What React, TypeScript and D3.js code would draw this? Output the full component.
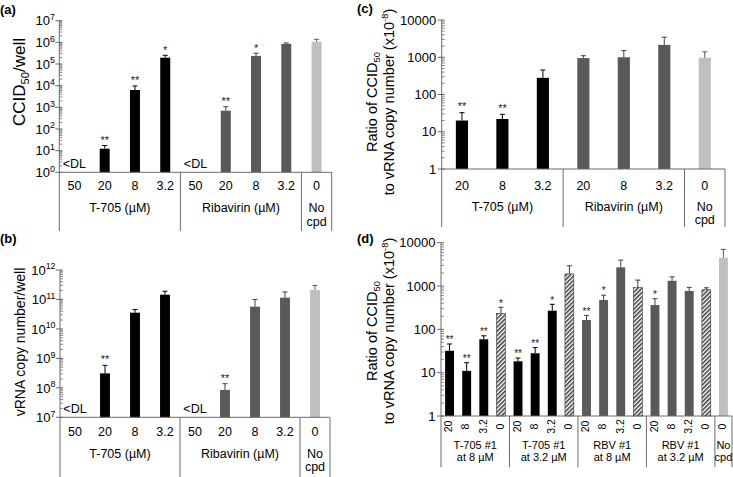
import React from "react";
import * as d3 from "d3";

const FONT = "'Liberation Sans', Arial, Helvetica, sans-serif";

// ---------- Panel (a): CCID50 / well ----------
const aCategories = ["50", "20", "8", "3.2", "50", "20", "8", "3.2", "0"];
const aGroups = [["T-705 (µM)"], ["Ribavirin (µM)"], ["No", "cpd"]];
const aGroupSizes = [4, 4, 1];
const aValues = [null, 12.3, 6300, 196000, null, 700, 236000, 850000, 1070000];
const aErrors = [null, 5, 3400, 57000, null, 370, 78000, 90000, 310000];
const aStars = ["", "**", "**", "*", "", "**", "*", "", ""];
const aKinds = ["k", "k", "k", "k", "g", "g", "g", "g", "l"];

// ---------- Panel (b): vRNA copy number / well ----------
const bCategories = ["50", "20", "8", "3.2", "50", "20", "8", "3.2", "0"];
const bGroups = [["T-705 (µM)"], ["Ribavirin (µM)"], ["No", "cpd"]];
const bGroupSizes = [4, 4, 1];
const bValues = [null, 3.1e8, 3.56e10, 1.45e11, null, 8.5e7, 5.7e10, 1.15e11, 2.1e11];
const bErrors = [null, 2.7e8, 1.0e10, 4.5e10, null, 5.3e7, 4.3e10, 6.5e10, 9e10];
const bStars = ["", "**", "", "", "", "**", "", "", ""];
const bKinds = ["k", "k", "k", "k", "g", "g", "g", "g", "l"];

// ---------- Panel (c): ratio ----------
const cCategories = ["20", "8", "3.2", "20", "8", "3.2", "0"];
const cGroups = [["T-705 (µM)"], ["Ribavirin (µM)"], ["No", "cpd"]];
const cGroupSizes = [3, 3, 1];
const cValues = [20, 22, 280, 950, 1000, 2150, 970];
const cErrors = [12.5, 7.4, 175, 150, 510, 1300, 430];
const cStars = ["**", "**", "", "", "", "", ""];
const cKinds = ["k", "k", "k", "g", "g", "g", "l"];

// ---------- Panel (d): ratio, combinations ----------
const dCategories = ["20", "8", "3.2", "0", "20", "8", "3.2", "0", "20", "8", "3.2", "0", "20", "8", "3.2", "0", "0"];
const dGroups = [["T-705 #1", "at 8 µM"], ["T-705 #1", "at 3.2 µM"], ["RBV #1", "at 8 µM"], ["RBV #1", "at 3.2 µM"], ["No", "cpd"]];
const dGroupSizes = [4, 4, 4, 4, 1];
const dValues = [32, 11, 59, 234, 18.3, 28, 270, 1900, 164, 475, 2700, 915, 364, 1320, 770, 820, 4500];
const dErrors = [14, 6, 12, 88, 3.5, 10, 108, 1030, 46, 139, 1270, 455, 146, 310, 160, 90, 2500];
const dStars = ["**", "**", "**", "*", "**", "**", "*", "", "**", "*", "", "", "*", "", "", "", ""];
const dKinds = ["k", "k", "k", "h", "k", "k", "k", "h", "g", "g", "g", "h", "g", "g", "g", "h", "l"];

const FILL: Record<string, string> = { k: "#000000", g: "#595959", l: "#bfbfbf", h: "url(#hatch)" };
const ERRC: Record<string, string> = { k: "#000000", g: "#404040", l: "#595959", h: "#3a3a3a" };
const AXIS = "#6b6b6b";

type Cfg = {
  x0: number; x1: number; yTop: number; yBot: number; domain: [number, number]; pad: number;
  tickFmt: "pow" | "plain"; tickFont: number; tickGap: number;
  catFont: number; catBaseline: number; rotateCats?: boolean; catCenterY?: number;
  groupFont: number; groupBaseline: number; groupLineH: number; lineBottom: number;
  starFont: number; starGap: number;
};

function Panel(props: {
  cfg: Cfg; categories: string[]; groups: string[][]; groupSizes: number[];
  values: (number | null)[]; errors: (number | null)[]; stars: string[]; kinds: string[];
}) {
  const { cfg, categories, groups, groupSizes, values, errors, stars, kinds } = props;
  const n = categories.length;
  const x = d3.scaleBand<number>().domain(d3.range(n)).range([cfg.x0, cfg.x1])
    .paddingInner(cfg.pad).paddingOuter(cfg.pad / 2);
  const step = x.step();
  const bw = x.bandwidth();
  const cx = (i: number) => (x(i) as number) + bw / 2;
  const y = d3.scaleLog().domain(cfg.domain).range([cfg.yBot, cfg.yTop]);
  const lo = Math.round(Math.log10(cfg.domain[0]));
  const hi = Math.round(Math.log10(cfg.domain[1]));
  const majors = d3.range(lo, hi + 1);
  const minors: number[] = [];
  for (let k = lo; k < hi; k++) for (let m = 2; m <= 9; m++) minors.push(m * Math.pow(10, k));
  const bounds: number[] = [cfg.x0];
  let acc = 0;
  groupSizes.forEach((s) => { acc += s; bounds.push(cfg.x0 + acc * step); });

  return (
    <g>
      {values.map((v, i) => v == null ? (
        <text key={"dl" + i} x={cx(i)} y={cfg.yBot - 4} fontSize={12.5} textAnchor="middle" fill="#000">{"<DL"}</text>
      ) : (
        <rect key={"b" + i} x={x(i)} y={y(v)} width={bw} height={cfg.yBot - y(v)} fill={FILL[kinds[i]]}
          stroke={kinds[i] === "h" ? "#3a3a3a" : "none"} strokeWidth={0.6} />
      ))}
      {values.map((v, i) => {
        const e = errors[i];
        if (v == null || e == null) return null;
        const top = y(v + e);
        return (
          <g key={"e" + i} stroke={ERRC[kinds[i]]} strokeWidth={1}>
            <line x1={cx(i)} x2={cx(i)} y1={y(v)} y2={top} />
            <line x1={cx(i) - 2.5} x2={cx(i) + 2.5} y1={top} y2={top} />
          </g>
        );
      })}
      {values.map((v, i) => {
        const e = errors[i];
        if (v == null || e == null || !stars[i]) return null;
        const top = y(v + e);
        return (
          <text key={"s" + i} x={cx(i)} y={top - cfg.starGap + 0.575 * cfg.starFont} fontSize={cfg.starFont}
            textAnchor="middle" fill="#1a1a1a">{stars[i]}</text>
        );
      })}
      <line x1={cfg.x0} x2={cfg.x0} y1={cfg.yTop} y2={cfg.yBot} stroke={AXIS} strokeWidth={1} />
      {minors.map((m, i) => (
        <line key={"mt" + i} x1={cfg.x0} x2={cfg.x0 + 3} y1={y(m)} y2={y(m)} stroke={AXIS} strokeWidth={0.8} />
      ))}
      {majors.map((k) => (
        <g key={"M" + k}>
          <line x1={cfg.x0 - 4} x2={cfg.x0 + 3} y1={y(Math.pow(10, k))} y2={y(Math.pow(10, k))} stroke={AXIS} strokeWidth={1} />
          {cfg.tickFmt === "pow" ? (
            <text x={cfg.x0 - cfg.tickGap} y={y(Math.pow(10, k)) + 0.36 * cfg.tickFont} fontSize={cfg.tickFont}
              textAnchor="end" fill="#000">
              <tspan>10</tspan>
              <tspan fontSize={cfg.tickFont * 0.68} dy={-cfg.tickFont * 0.42}>{String(k)}</tspan>
            </text>
          ) : (
            <text x={cfg.x0 - cfg.tickGap} y={y(Math.pow(10, k)) + 0.36 * cfg.tickFont} fontSize={cfg.tickFont}
              textAnchor="end" fill="#000">{d3.format("d")(Math.pow(10, k))}</text>
          )}
        </g>
      ))}
      <line x1={cfg.x0} x2={cfg.x1} y1={cfg.yBot} y2={cfg.yBot} stroke={AXIS} strokeWidth={1} />
      {bounds.map((b, i) => (
        <line key={"sep" + i} x1={b} x2={b} y1={cfg.yBot} y2={cfg.lineBottom} stroke={AXIS} strokeWidth={1} />
      ))}
      {categories.map((c, i) => cfg.rotateCats ? (
        <text key={"c" + i} transform={`translate(${cx(i) - 1},${cfg.catCenterY}) rotate(-90)`} y={0.36 * cfg.catFont}
          fontSize={cfg.catFont} textAnchor="middle" fill="#000">{c}</text>
      ) : (
        <text key={"c" + i} x={cx(i)} y={cfg.catBaseline} fontSize={cfg.catFont} textAnchor="middle" fill="#000">{c}</text>
      ))}
      {groups.map((lines, gi) => {
        const mid = (bounds[gi] + bounds[gi + 1]) / 2;
        return (
          <text key={"g" + gi} fontSize={cfg.groupFont} textAnchor="middle" fill="#000">
            {lines.map((ln, li) => (
              <tspan key={li} x={mid} y={cfg.groupBaseline + li * cfg.groupLineH}>{ln}</tspan>
            ))}
          </text>
        );
      })}
    </g>
  );
}

const cfgA: Cfg = {
  x0: 59.3, x1: 331.7, yTop: 20.7, yBot: 172.3, domain: [1, 1e7], pad: 0.67,
  tickFmt: "pow", tickFont: 13, tickGap: 4.5,
  catFont: 12.5, catBaseline: 190,
  groupFont: 12.5, groupBaseline: 211.7, groupLineH: 14, lineBottom: 231,
  starFont: 11, starGap: 8,
};
const cfgB: Cfg = {
  x0: 60, x1: 330, yTop: 270, yBot: 417.3, domain: [1e7, 1e12], pad: 0.67,
  tickFmt: "pow", tickFont: 13, tickGap: 4.5,
  catFont: 12.5, catBaseline: 436,
  groupFont: 12.5, groupBaseline: 458, groupLineH: 13, lineBottom: 477,
  starFont: 11, starGap: 8.3,
};
const cfgC: Cfg = {
  x0: 441.7, x1: 725, yTop: 20, yBot: 169, domain: [1, 1e4], pad: 0.7,
  tickFmt: "plain", tickFont: 13, tickGap: 5.5,
  catFont: 12.5, catBaseline: 189.5,
  groupFont: 12.5, groupBaseline: 210.5, groupLineH: 13.5, lineBottom: 227,
  starFont: 11, starGap: 9,
};
const cfgD: Cfg = {
  x0: 441, x1: 732, yTop: 242.7, yBot: 416, domain: [1, 1e4], pad: 0.48,
  tickFmt: "plain", tickFont: 13, tickGap: 5.5,
  catFont: 10.5, catBaseline: 0, rotateCats: true, catCenterY: 426.5,
  groupFont: 11, groupBaseline: 448.5, groupLineH: 12.5, lineBottom: 467.3,
  starFont: 10, starGap: 6.5,
};

function RotTitle(props: { cx: number; cy: number; fs: number; children: React.ReactNode }) {
  const { cx, cy, fs, children } = props;
  return (
    <text transform={`translate(${cx + 0.36 * fs},${cy}) rotate(-90)`} fontSize={fs} textAnchor="middle" fill="#000">
      {children}
    </text>
  );
}

function RatioTitle(props: { cy: number }) {
  const fs = 14.5;
  return (
    <g>
      <RotTitle cx={372} cy={props.cy} fs={fs}>
        <tspan>Ratio of CCID</tspan>
        <tspan fontSize={fs * 0.65} dy={fs * 0.22}>50</tspan>
      </RotTitle>
      <RotTitle cx={388.5} cy={props.cy} fs={fs}>
        <tspan>to vRNA copy number (x10</tspan>
        <tspan fontSize={fs * 0.65} dy={-fs * 0.4}>-8</tspan>
        <tspan dy={fs * 0.4}>)</tspan>
      </RotTitle>
    </g>
  );
}

export default function App() {
  return (
    <svg width={733} height={477} style={{ position: "absolute", left: 0, top: 0 }} fontFamily={FONT}>
      <defs>
        <pattern id="hatch" patternUnits="userSpaceOnUse" width={3} height={3} patternTransform="rotate(45)">
          <rect width={3} height={3} fill="#ffffff" />
          <line x1={0.75} y1={0} x2={0.75} y2={3} stroke="#3a3a3a" strokeWidth={1.5} />
        </pattern>
      </defs>
      <rect width={733} height={477} fill="#ffffff" />

      <text x={0} y={13.5} fontSize={13} fontWeight="bold">(a)</text>
      <text x={0} y={243} fontSize={13} fontWeight="bold">(b)</text>
      <text x={357} y={12.5} fontSize={13} fontWeight="bold">(c)</text>
      <text x={357} y={243} fontSize={13} fontWeight="bold">(d)</text>

      <RotTitle cx={18.8} cy={82} fs={17}>
        <tspan>CCID</tspan>
        <tspan fontSize={17 * 0.65} dy={17 * 0.22}>50</tspan>
        <tspan dy={-17 * 0.22}>/well</tspan>
      </RotTitle>
      <RotTitle cx={20} cy={342} fs={14}>vRNA copy number/well</RotTitle>
      <RatioTitle cy={102} />
      <RatioTitle cy={331} />

      <Panel cfg={cfgA} categories={aCategories} groups={aGroups} groupSizes={aGroupSizes}
        values={aValues} errors={aErrors} stars={aStars} kinds={aKinds} />
      <Panel cfg={cfgB} categories={bCategories} groups={bGroups} groupSizes={bGroupSizes}
        values={bValues} errors={bErrors} stars={bStars} kinds={bKinds} />
      <Panel cfg={cfgC} categories={cCategories} groups={cGroups} groupSizes={cGroupSizes}
        values={cValues} errors={cErrors} stars={cStars} kinds={cKinds} />
      <Panel cfg={cfgD} categories={dCategories} groups={dGroups} groupSizes={dGroupSizes}
        values={dValues} errors={dErrors} stars={dStars} kinds={dKinds} />
    </svg>
  );
}
